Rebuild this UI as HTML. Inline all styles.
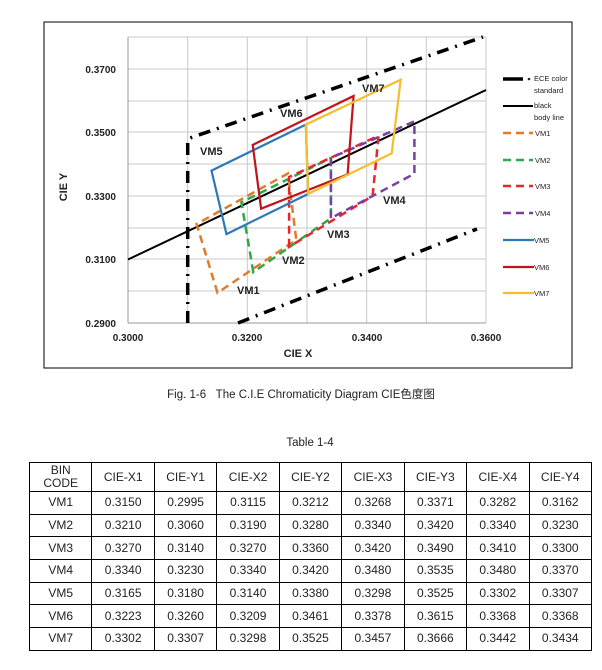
<!DOCTYPE html>
<html><head><meta charset="utf-8"><style>
body{margin:0;background:#fff;width:602px;height:670px;overflow:hidden;font-family:"Liberation Sans","Noto Sans CJK SC",sans-serif}
table{position:absolute;left:29px;top:462px;border-collapse:collapse;width:563px;table-layout:fixed}
td{border:1px solid #000;text-align:center;font-size:12px;color:#222;height:21.7px;padding:0;line-height:13px}
tr:first-child td{height:28px}
</style></head><body>
<svg width="602" height="670" style="position:absolute;left:0;top:0" font-family="Liberation Sans, sans-serif">
<rect x="44" y="22" width="528" height="346" fill="none" stroke="#000" stroke-width="1"/>
<g stroke="#c8c8c8" stroke-width="1">
<line x1="128" y1="37" x2="486" y2="37"/><line x1="128" y1="69" x2="486" y2="69"/><line x1="128" y1="101" x2="486" y2="101"/><line x1="128" y1="132" x2="486" y2="132"/><line x1="128" y1="164" x2="486" y2="164"/><line x1="128" y1="196" x2="486" y2="196"/><line x1="128" y1="228" x2="486" y2="228"/><line x1="128" y1="259" x2="486" y2="259"/><line x1="128" y1="291" x2="486" y2="291"/>
<line x1="187.7" y1="37" x2="187.7" y2="323"/><line x1="247.3" y1="37" x2="247.3" y2="323"/><line x1="307" y1="37" x2="307" y2="323"/><line x1="366.7" y1="37" x2="366.7" y2="323"/><line x1="426.3" y1="37" x2="426.3" y2="323"/><line x1="486" y1="37" x2="486" y2="323"/>
</g>
<line x1="128" y1="37" x2="128" y2="323" stroke="#999"/><line x1="128" y1="323" x2="486" y2="323" stroke="#999"/>
<g font-size="10" font-weight="bold" fill="#222" text-anchor="end">
<text x="116" y="73">0.3700</text><text x="116" y="136">0.3500</text><text x="116" y="200">0.3300</text><text x="116" y="263">0.3100</text><text x="116" y="327">0.2900</text>
</g>
<g font-size="10" font-weight="bold" fill="#222" text-anchor="middle">
<text x="128" y="341">0.3000</text><text x="247" y="341">0.3200</text><text x="367" y="341">0.3400</text><text x="486" y="341">0.3600</text>
<text x="298" y="357" font-size="11">CIE X</text>
<text x="0" y="0" font-size="11" transform="translate(67,187) rotate(-90)">CIE Y</text>
</g>
<g fill="none" stroke="#000" stroke-width="3.5" stroke-dasharray="12,7,2,7">
<polyline points="187.7,323 187.7,138.8 483,37"/>
<line x1="238" y1="323" x2="477" y2="229"/>
</g>
<line x1="128" y1="259.5" x2="486" y2="90" stroke="#000" stroke-width="2"/>
<g fill="none" stroke-width="2.5" stroke-dasharray="8,5">
<polygon points="217.5,292.8 196.6,224 287.9,173.5 296.3,239.8" stroke="#E07B2A"/>
<polygon points="253.3,272.2 241.4,202.3 330.9,157.9 330.9,218.2" stroke="#2EA84A"/>
<polygon points="289.1,246.8 289.1,177 378.6,135.7 372.6,196" stroke="#E8262A"/>
<polygon points="330.9,218.2 330.9,157.9 414.4,121.4 414.4,173.7" stroke="#7A3FA0"/>
</g>
<g fill="none" stroke-width="2.2">
<polygon points="226.5,234.1 211.5,170.6 305.8,124.6 308.2,193.9" stroke="#2E78B8"/>
<polygon points="261.1,208.7 252.7,144.9 353.6,96 347.6,174.4" stroke="#C0141C"/>
<polygon points="308.2,193.9 305.8,124.6 400.7,79.7 391.7,153.4" stroke="#F5BE2A"/>
</g>
<g font-size="11" font-weight="bold" fill="#222">
<text x="280" y="117">VM6</text><text x="200" y="155">VM5</text><text x="362" y="92">VM7</text><text x="383" y="204">VM4</text><text x="327" y="238">VM3</text><text x="282" y="264">VM2</text><text x="237" y="294">VM1</text>
</g>
<g font-size="7.5" fill="#222">
<line x1="503" y1="79" x2="523" y2="79" stroke="#000" stroke-width="3.5"/><circle cx="529" cy="79" r="1.3"/>
<text x="534" y="81">ECE color</text><text x="534" y="93">standard</text>
<line x1="503" y1="106" x2="533" y2="106" stroke="#000" stroke-width="2"/><text x="534" y="108">black</text><text x="534" y="120">body line</text>
<line x1="503" y1="133" x2="533" y2="133" stroke="#E07B2A" stroke-width="2.5" stroke-dasharray="8,5"/><text x="535" y="136">VM1</text>
<line x1="503" y1="160" x2="533" y2="160" stroke="#2EA84A" stroke-width="2.5" stroke-dasharray="8,5"/><text x="535" y="163">VM2</text>
<line x1="503" y1="186" x2="533" y2="186" stroke="#E8262A" stroke-width="2.5" stroke-dasharray="8,5"/><text x="535" y="189">VM3</text>
<line x1="503" y1="213" x2="533" y2="213" stroke="#7A3FA0" stroke-width="2.5" stroke-dasharray="8,5"/><text x="535" y="216">VM4</text>
<line x1="503" y1="240" x2="534" y2="240" stroke="#2E78B8" stroke-width="2.2"/><text x="534" y="243">VM5</text>
<line x1="503" y1="267" x2="534" y2="267" stroke="#C0141C" stroke-width="2.2"/><text x="534" y="270">VM6</text>
<line x1="503" y1="293" x2="534" y2="293" stroke="#F5BE2A" stroke-width="2.2"/><text x="534" y="296">VM7</text>
</g>
<text x="301" y="398" font-size="11.5" text-anchor="middle" fill="#222" font-family="Liberation Sans, Noto Sans CJK SC, sans-serif">Fig. 1-6&#160;&#160;&#160;The C.I.E Chromaticity Diagram CIE色度图</text>
<text x="310" y="446" font-size="11.5" text-anchor="middle" fill="#222">Table 1-4</text>
</svg>
<table>
<tr><td>BIN<br>CODE</td><td>CIE-X1</td><td>CIE-Y1</td><td>CIE-X2</td><td>CIE-Y2</td><td>CIE-X3</td><td>CIE-Y3</td><td>CIE-X4</td><td>CIE-Y4</td></tr>
<tr><td>VM1</td><td>0.3150</td><td>0.2995</td><td>0.3115</td><td>0.3212</td><td>0.3268</td><td>0.3371</td><td>0.3282</td><td>0.3162</td></tr>
<tr><td>VM2</td><td>0.3210</td><td>0.3060</td><td>0.3190</td><td>0.3280</td><td>0.3340</td><td>0.3420</td><td>0.3340</td><td>0.3230</td></tr>
<tr><td>VM3</td><td>0.3270</td><td>0.3140</td><td>0.3270</td><td>0.3360</td><td>0.3420</td><td>0.3490</td><td>0.3410</td><td>0.3300</td></tr>
<tr><td>VM4</td><td>0.3340</td><td>0.3230</td><td>0.3340</td><td>0.3420</td><td>0.3480</td><td>0.3535</td><td>0.3480</td><td>0.3370</td></tr>
<tr><td>VM5</td><td>0.3165</td><td>0.3180</td><td>0.3140</td><td>0.3380</td><td>0.3298</td><td>0.3525</td><td>0.3302</td><td>0.3307</td></tr>
<tr><td>VM6</td><td>0.3223</td><td>0.3260</td><td>0.3209</td><td>0.3461</td><td>0.3378</td><td>0.3615</td><td>0.3368</td><td>0.3368</td></tr>
<tr><td>VM7</td><td>0.3302</td><td>0.3307</td><td>0.3298</td><td>0.3525</td><td>0.3457</td><td>0.3666</td><td>0.3442</td><td>0.3434</td></tr>
</table>
</body></html>
